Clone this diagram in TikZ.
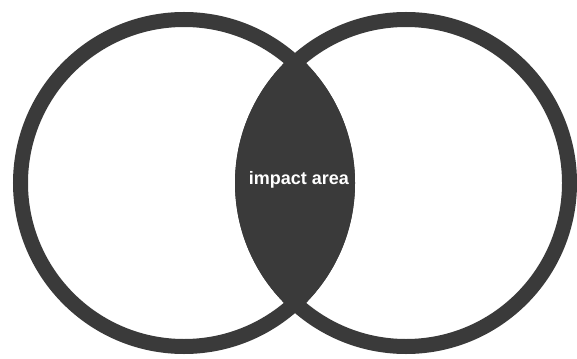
\documentclass[tikz,border=0pt]{standalone}
\usepackage{fontspec}
\setmainfont{Liberation Sans}
\definecolor{ringgray}{HTML}{3A3A3A}
\begin{document}
\begin{tikzpicture}[x=1pt,y=-1pt,
  ring/.style={draw=ringgray,line width=15pt},
  label/.style={text=white,font=\bfseries\fontsize{18}{18}\selectfont,inner sep=0pt}]
\useasboundingbox (0,0) rectangle (577,358);
\fill[white] (0,0) rectangle (577,358);
\begin{scope}
  \clip (184,183) circle[radius=171];
  \fill[ringgray] (406,183) circle[radius=171];
\end{scope}
\draw[ring] (184,183) circle[radius=163.5];
\draw[ring] (406,183) circle[radius=163.5];
\node[label] (impact) at (299,180) {impact area};
\end{tikzpicture}
\end{document}
